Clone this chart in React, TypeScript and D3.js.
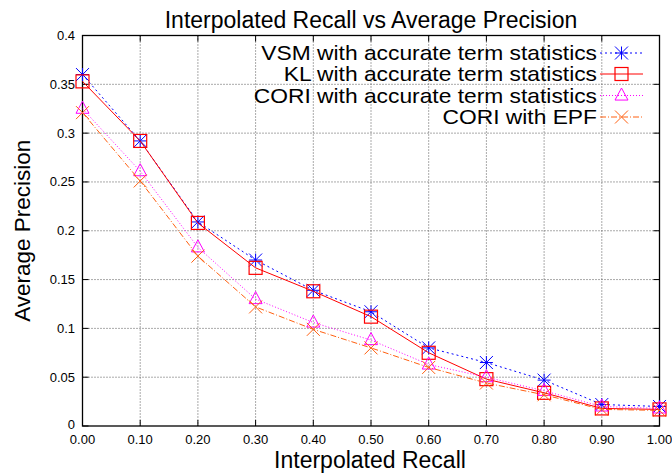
import React from "react";
import * as d3 from "d3";

const recall = [0, 0.1, 0.2, 0.3, 0.4, 0.5, 0.6, 0.7, 0.8, 0.9, 1.0];
const vsm = [0.36, 0.292, 0.209, 0.17, 0.139, 0.117, 0.08, 0.065, 0.047, 0.022, 0.02];
const kl = [0.353, 0.292, 0.208, 0.162, 0.138, 0.112, 0.075, 0.048, 0.034, 0.018, 0.017];
const cori = [0.325, 0.261, 0.183, 0.13, 0.106, 0.088, 0.063, 0.05, 0.036, 0.02, 0.018];
const epf = [0.321, 0.251, 0.174, 0.122, 0.099, 0.08, 0.06, 0.044, 0.032, 0.017, 0.016];
const xTicks = [0, 0.1, 0.2, 0.3, 0.4, 0.5, 0.6, 0.7, 0.8, 0.9, 1.0];
const yTicks = [0, 0.05, 0.1, 0.15, 0.2, 0.25, 0.3, 0.35, 0.4];
const yTickLabels = ["0", "0.05", "0.1", "0.15", "0.2", "0.25", "0.3", "0.35", "0.4"];
const seriesNames = [
  "VSM with accurate term statistics",
  "KL with accurate term statistics",
  "CORI with accurate term statistics",
  "CORI with EPF",
];

const W = 672, H = 474;
const L = 82.5, R = 659.5, T = 35.5, B = 426;
const FONT = "'Liberation Sans', Arial, Helvetica, sans-serif";

type Marker = "star" | "square" | "triangle" | "cross";
const seriesDefs: { values: number[]; color: string; dash: string | undefined; marker: Marker }[] = [
  { values: vsm, color: "#0000ff", dash: "2,3", marker: "star" },
  { values: kl, color: "#ff0000", dash: undefined, marker: "square" },
  { values: cori, color: "#ff00ff", dash: "1,2", marker: "triangle" },
  { values: epf, color: "#ff6010", dash: "6,2,1,2", marker: "cross" },
];

function MarkerShape({ type, x, y, color }: { type: Marker; x: number; y: number; color: string }) {
  const s = 6.5;
  if (type === "star") {
    return (
      <path
        d={`M${x - s},${y}H${x + s}M${x},${y - s}V${y + s}M${x - s},${y - s}L${x + s},${y + s}M${x - s},${y + s}L${x + s},${y - s}`}
        stroke={color}
        strokeWidth={1}
        fill="none"
      />
    );
  }
  if (type === "square") {
    return <rect x={x - s} y={y - s} width={2 * s} height={2 * s} stroke={color} strokeWidth={1.2} fill="none" />;
  }
  if (type === "triangle") {
    return (
      <path d={`M${x},${y - s - 1}L${x + s},${y + s * 0.7}L${x - s},${y + s * 0.7}Z`} stroke={color} strokeWidth={1} fill="none" />
    );
  }
  return (
    <path d={`M${x - s},${y - s}L${x + s},${y + s}M${x - s},${y + s}L${x + s},${y - s}`} stroke={color} strokeWidth={1} fill="none" />
  );
}

export default function App() {
  const x = d3.scaleLinear().domain([0, 1]).range([L, R]);
  const y = d3.scaleLinear().domain([0, 0.4]).range([B, T]);
  const line = d3
    .line<number>()
    .x((_, i) => x(recall[i]))
    .y((d) => y(d));

  const legendY = [53, 74, 95.5, 117];
  const legendTextX = 597;
  const lx1 = 600, lx2 = 643;
  const legendFont = 20;
  const legendStretch = 1.14;

  return (
    <svg width={W} height={H} style={{ position: "absolute", left: 0, top: 0, background: "#fff" }} fontFamily={FONT}>
      <rect x={0} y={0} width={W} height={H} fill="#fff" />
      {/* grid */}
      <g stroke="#555" strokeWidth={1} strokeDasharray="1,2">
        {xTicks.slice(1, -1).map((t) => (
          <line key={"gx" + t} x1={x(t)} x2={x(t)} y1={T} y2={B} />
        ))}
        {yTicks.slice(1, -1).map((t) => (
          <line key={"gy" + t} x1={L} x2={R} y1={y(t)} y2={y(t)} />
        ))}
      </g>
      {/* ticks */}
      <g stroke="#000" strokeWidth={1}>
        {xTicks.map((t) => (
          <g key={"tx" + t}>
            <line x1={x(t)} x2={x(t)} y1={B} y2={B - 6} />
            <line x1={x(t)} x2={x(t)} y1={T} y2={T + 6} />
          </g>
        ))}
        {yTicks.map((t) => (
          <g key={"ty" + t}>
            <line x1={L} x2={L + 6} y1={y(t)} y2={y(t)} />
            <line x1={R} x2={R - 6} y1={y(t)} y2={y(t)} />
          </g>
        ))}
      </g>
      <rect x={L} y={T} width={R - L} height={B - T} fill="none" stroke="#000" strokeWidth={1.3} />
      {/* tick labels */}
      <g fontSize={13} fill="#000">
        {xTicks.map((t) => (
          <text key={"lx" + t} x={x(t)} y={444} textAnchor="middle">
            {t.toFixed(2)}
          </text>
        ))}
        {yTicks.map((t, i) => (
          <text key={"ly" + t} x={75} y={y(t) + (i === 0 ? 3 : 4.5)} textAnchor="end">
            {yTickLabels[i]}
          </text>
        ))}
      </g>
      {/* titles */}
      <text x={371} y={28} fontSize={23} textAnchor="middle" fill="#000">
        Interpolated Recall vs Average Precision
      </text>
      <text x={370} y={468} fontSize={23} textAnchor="middle" fill="#000">
        Interpolated Recall
      </text>
      <text transform={`translate(30,${(T + B) / 2}) rotate(-90)`} fontSize={22.5} textAnchor="middle" fill="#000">
        Average Precision
      </text>
      {/* series */}
      {seriesDefs.map((s, si) => (
        <g key={"s" + si}>
          <path d={line(s.values) || ""} fill="none" stroke={s.color} strokeWidth={1} strokeDasharray={s.dash} />
          {s.values.map((v, i) => (
            <MarkerShape key={i} type={s.marker} x={x(recall[i])} y={y(v)} color={s.color} />
          ))}
        </g>
      ))}
      {/* legend */}
      {seriesDefs.map((s, si) => (
        <g key={"lg" + si}>
          <text
            transform={`translate(${legendTextX},${legendY[si] + 7}) scale(${legendStretch},1)`}
            fontSize={legendFont}
            textAnchor="end"
            fill="#000"
          >
            {seriesNames[si]}
          </text>
          <line x1={lx1} x2={lx2} y1={legendY[si]} y2={legendY[si]} stroke={s.color} strokeWidth={1} strokeDasharray={s.dash} />
          <MarkerShape type={s.marker} x={(lx1 + lx2) / 2} y={legendY[si]} color={s.color} />
        </g>
      ))}
    </svg>
  );
}
